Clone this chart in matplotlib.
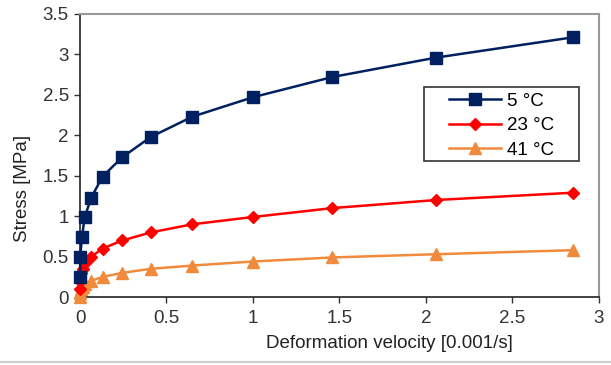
import matplotlib
matplotlib.use("Agg")
import matplotlib.pyplot as plt
from matplotlib.patches import Rectangle
import numpy as np

plt.rcParams['font.family'] = ['Liberation Sans', 'DejaVu Sans']

x_5 = [0.0, 0.001, 0.011, 0.027, 0.065, 0.13, 0.245, 0.41, 0.65, 1.0, 1.46, 2.06, 2.85]
y_5 = [0.25, 0.5, 0.74, 0.99, 1.23, 1.49, 1.73, 1.98, 2.23, 2.47, 2.72, 2.96, 3.21]

x_23 = [0.0, 0.001, 0.004, 0.015, 0.03, 0.065, 0.13, 0.245, 0.41, 0.65, 1.0, 1.46, 2.06, 2.85]
y_23 = [0.1, 0.2, 0.3, 0.35, 0.42, 0.5, 0.6, 0.7, 0.8, 0.9, 0.99, 1.1, 1.2, 1.29]

x_41 = [0.0, 0.001, 0.004, 0.015, 0.03, 0.065, 0.13, 0.245, 0.41, 0.65, 1.0, 1.46, 2.06, 2.85]
y_41 = [0.0, 0.05, 0.1, 0.13, 0.16, 0.2, 0.25, 0.3, 0.35, 0.39, 0.44, 0.49, 0.53, 0.58]

FS = 13.5
fig = plt.figure(figsize=(6.11, 3.65), dpi=100)
ax = fig.add_axes([0.131, 0.186, 0.849, 0.776])

ax.plot(x_5, y_5, color='#002060', marker='s', markersize=8, lw=1.8, label='5 °C', clip_on=False, zorder=5)
ax.plot(x_23, y_23, color='#ff0000', marker='D', markersize=6, lw=1.8, label='23 °C', clip_on=False, zorder=4)
ax.plot(x_41, y_41, color='#f08a3c', marker='^', markersize=8, lw=1.8, label='41 °C', clip_on=False, zorder=3)

ax.set_xlim(0, 3)
ax.set_ylim(0, 3.5)
ax.set_xticks(np.arange(0, 3.01, 0.5))
ax.set_xticklabels(['0', '0.5', '1', '1.5', '2', '2.5', '3'])
ax.set_yticks(np.arange(0, 3.51, 0.5))
ax.set_yticklabels(['0', '0.5', '1', '1.5', '2', '2.5', '3', '3.5'])
ax.tick_params(direction='out', length=4, labelsize=FS, colors='#333333', width=1)
ax.tick_params(axis='x', pad=5)
ax.tick_params(axis='y', pad=4)
for s in ['left', 'bottom']:
    ax.spines[s].set_color('#222222')
    ax.spines[s].set_linewidth(1.2)
for s in ['top', 'right']:
    ax.spines[s].set_color('#999999')
    ax.spines[s].set_linewidth(1.5)

ax.set_xlabel('Deformation velocity [0.001/s]', fontsize=FS, color='#222222')
ax.xaxis.label.set_va('center')
ax.xaxis.set_label_coords(0.597, -0.163)
ax.set_ylabel('Stress [MPa]', fontsize=FS, color='#222222')
ax.yaxis.label.set_va('center')
ax.yaxis.set_label_coords(-0.11, 0.385)

ax.add_patch(Rectangle((0.663, 0.481), 0.298, 0.261, transform=ax.transAxes, fill=True,
                       facecolor='white', edgecolor='#333333', lw=1.2, zorder=6, clip_on=False))
leg = ax.legend(loc='upper left', bbox_to_anchor=(0.711, 0.722), fontsize=FS, frameon=False,
                handlelength=2.8, borderpad=0, borderaxespad=0,
                labelspacing=0.4, handletextpad=0.3)
leg.set_zorder(7)

fig.add_artist(plt.Line2D([0, 1], [0.008, 0.008], color='#cccccc', lw=1.5, transform=fig.transFigure))

fig.savefig('out.png', dpi=100)
